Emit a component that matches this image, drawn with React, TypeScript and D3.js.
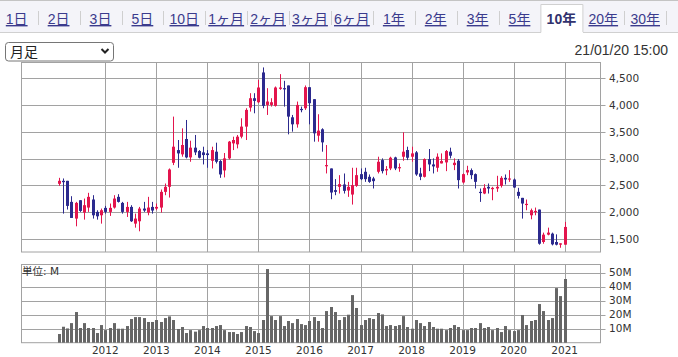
import React from "react";
import * as d3 from "d3";

const tabs = ["1日", "2日", "3日", "5日", "10日", "1ヶ月", "2ヶ月", "3ヶ月", "6ヶ月", "1年", "2年", "3年", "5年", "10年", "20年", "30年"];
const activeTab = "10年";
const periodLabel = "月足";
const timestamp = "21/01/20 15:00";
const unitLabel = "単位: M";

// monthly candles, Feb 2011 .. Jan 2021
const opens = [2530, 2586, 2586, 2193, 1881, 2224, 1993, 2087, 2237, 2006, 1943, 2081, 2006, 2087, 2287, 2174, 2006, 2099, 1787, 1831, 2068, 1993, 2099, 2068, 2087, 2380, 2474, 2923, 3160, 3080, 3367, 3023, 3205, 3142, 3117, 3098, 2960, 3130, 2955, 2780, 3005, 3285, 3267, 3410, 3598, 3953, 4128, 4053, 4609, 4003, 4003, 3985, 4303, 4316, 4366, 3772, 3641, 3928, 3941, 4334, 4110, 3429, 3548, 2861, 2817, 2412, 2474, 2518, 2405, 2330, 2493, 2711, 2755, 2661, 2630, 2755, 2973, 2780, 2817, 3023, 2830, 3036, 3161, 3036, 3117, 2724, 2661, 2992, 2892, 2830, 2911, 2930, 3130, 2880, 2961, 2555, 2742, 2786, 2711, 2380, 2349, 2474, 2430, 2443, 2493, 2642, 2611, 2611, 2380, 2268, 2143, 1943, 2018, 2049, 1444, 1581, 1600, 1444, 1394, 1394];
const closes = [2586, 2561, 2118, 1893, 2174, 2024, 2131, 2287, 1943, 1924, 2037, 2006, 2081, 2255, 2193, 2006, 2099, 1831, 1881, 2068, 2031, 2087, 2031, 2099, 2380, 2474, 2798, 3223, 3098, 3255, 3023, 3205, 3117, 3017, 3067, 3067, 3160, 2942, 2705, 3005, 3317, 3348, 3410, 3598, 3910, 4128, 4078, 4328, 3985, 4066, 4053, 4328, 4328, 4303, 3785, 3641, 4003, 3910, 4334, 4035, 3473, 3523, 3304, 2880, 2368, 2380, 2524, 2399, 2474, 2505, 2692, 2617, 2617, 2567, 2580, 2942, 2767, 2805, 3017, 2817, 2842, 3130, 3017, 3098, 2705, 2661, 2992, 2892, 2855, 3036, 2955, 3142, 3055, 2923, 2599, 2711, 2786, 2692, 2567, 2374, 2455, 2443, 2455, 2474, 2642, 2611, 2630, 2461, 2305, 2162, 2156, 2037, 2024, 1412, 1581, 1619, 1400, 1394, 1419, 1725];
const highs = [2642, 2630, 2586, 2299, 2193, 2224, 2255, 2362, 2318, 2037, 2068, 2118, 2162, 2318, 2337, 2193, 2193, 2131, 1974, 2099, 2193, 2287, 2193, 2162, 2424, 2536, 2817, 3785, 3348, 3566, 3722, 3335, 3442, 3160, 3223, 3160, 3223, 3298, 2973, 3105, 3330, 3410, 3442, 3754, 3941, 4222, 4222, 4472, 4703, 4316, 4128, 4347, 4578, 4453, 4366, 3816, 4066, 3972, 4366, 4334, 4110, 3829, 3567, 3254, 2817, 2618, 2692, 2723, 2567, 2830, 2830, 2817, 2830, 2705, 2661, 3036, 3005, 2861, 3036, 3036, 2911, 3492, 3223, 3223, 3142, 2830, 3005, 3180, 3005, 3098, 3098, 3161, 3205, 3005, 2992, 2724, 2867, 2817, 2724, 2443, 2524, 2536, 2474, 2680, 2674, 2705, 2786, 2630, 2455, 2268, 2237, 2068, 2087, 2049, 1619, 1712, 1619, 1587, 1419, 1819];
const lows = [2493, 1974, 2050, 1893, 1737, 2006, 1862, 2006, 1881, 1862, 1787, 1974, 1931, 2068, 2181, 1974, 1912, 1819, 1712, 1644, 2006, 1943, 1974, 2037, 1993, 2318, 2274, 2880, 2830, 3036, 3005, 2942, 3067, 3005, 2892, 2830, 2817, 2911, 2642, 2650, 2986, 3160, 3192, 3379, 3348, 3879, 3847, 4035, 3941, 3816, 3972, 3972, 4285, 3972, 3454, 3504, 3579, 3866, 3910, 3641, 3317, 3317, 3130, 2724, 2243, 2318, 2349, 2349, 2287, 2143, 2474, 2599, 2567, 2549, 2443, 2724, 2724, 2692, 2786, 2786, 2755, 2961, 2973, 2942, 2680, 2599, 2649, 2767, 2724, 2755, 2911, 2767, 3005, 2786, 2443, 2536, 2692, 2618, 2443, 2193, 2337, 2349, 2224, 2380, 2461, 2518, 2567, 2455, 2255, 1881, 2037, 1868, 1943, 1394, 1412, 1569, 1381, 1381, 1337, 1394];
// volume in millions of shares
const volumes = [6.2, 11.4, 10.2, 14, 21.9, 10.5, 14, 10.5, 10.5, 6.9, 12.6, 9, 10.5, 14, 10, 10, 11.9, 16.9, 18.3, 18.3, 17.6, 14.8, 14.8, 16.2, 14.8, 17.6, 18.8, 16.2, 9.8, 11.2, 6.9, 9, 7.9, 9, 11.9, 10.5, 10.5, 11.9, 12.6, 9, 7.6, 7.6, 6.2, 7.6, 11.9, 11.2, 8.3, 6.9, 16.2, 52.6, 19, 16.2, 19, 11.9, 15.5, 14, 16.9, 13.3, 12.6, 15.5, 18.3, 15.5, 10.5, 22.6, 25.5, 21.9, 16.2, 18.3, 20, 34, 24.8, 12.6, 16.2, 17.6, 16.9, 21.2, 20.2, 11.9, 12.6, 11.9, 12.6, 19, 11.2, 10, 16.2, 14, 11.9, 14.8, 11.2, 10, 10, 9, 10.5, 12.6, 11.2, 9, 9, 10.5, 10.5, 14, 10.5, 11.2, 9, 10.5, 7.6, 11.9, 9, 8.3, 9, 19.8, 12.6, 15.5, 16.2, 27.6, 22.6, 16.2, 17.6, 39, 33.3, 45.5];

const priceTicks = [1500, 2000, 2500, 3000, 3500, 4000, 4500];
const volumeTicks = [10, 20, 30, 40, 50];
const yearLabels = ["2012", "2013", "2014", "2015", "2016", "2017", "2018", "2019", "2020", "2021"];
const yearIndex = [11, 23, 35, 47, 59, 71, 83, 95, 107, 119];

const W = 678, H = 357;
const L = 21.5, R = 600.5;
const pTop = 62.5, pBot = 252;
const vTop = 264.5, vBot = 342.7;

const RED = "#e3154d";
const BLUE = "#2c2a8e";
const GRID = "#a2a2a2";
const AXFONT = "'DejaVu Sans', Verdana, sans-serif";
const JPFONT = "'Liberation Sans', Arial, 'Noto Sans CJK JP', sans-serif";

export default function App() {
  const x = d3.scaleLinear().domain([11, 119]).range([105.3, 564.7]);
  const y = d3.scaleLinear().domain([1500, 4500]).range([239, 78.3]);
  const yv = d3.scaleLinear().domain([0, 50]).range([vBot, 272.7]);
  const crisp = (v: number) => Math.round(v) + 0.5;

  const tabX = (k: number) => 16.7 + 41.9 * k;
  const activeK = tabs.indexOf(activeTab);

  return (
    <svg width={W} height={H} style={{ position: "absolute", left: 0, top: 0, background: "#fff" }}>
      {/* tab bar */}
      <rect x={0} y={0} width={W} height={32.5} fill="#f4f4f9" />
      <line x1={0} x2={W} y1={0.5} y2={0.5} stroke="#c4c4c4" />
      <line x1={0} x2={W} y1={32.5} y2={32.5} stroke="#d0d0d0" />
      <path d={`M${tabX(activeK) - 20.5},33 V4.5 H${tabX(activeK) + 21.5} V33`} fill="#fff" stroke="#d0d0d0" />
      <rect x={tabX(activeK) - 20} y={32} width={41.5} height={2} fill="#fff" />
      {tabs.map((t, k) => (
        <text key={t} x={tabX(k)} y={24} textAnchor="middle" fontFamily={JPFONT} fontSize={14}
          fontWeight={k === activeK ? "bold" : "normal"} fill={k === activeK ? "#32326e" : "#3b3b8d"}
          textDecoration={k === activeK ? "none" : "underline"}>{t}</text>
      ))}
      {tabs.map((t, k) => (k !== activeK - 1 && k !== activeK) ? (
        <line key={"s" + t} x1={crisp(tabX(k) + 21)} x2={crisp(tabX(k) + 21)} y1={11} y2={25} stroke="#cfcfcf" />
      ) : null)}

      {/* period select */}
      <rect x={5.5} y={42.5} width={108} height={18.5} rx={3} fill="#fff" stroke="#767676" />
      <text x={10} y={57} fontFamily={JPFONT} fontSize={14} fill="#222">{periodLabel}</text>
      <path d="M101.5,49 L105,52.5 L108.5,49" fill="none" stroke="#222" strokeWidth={2} />
      <text x={668} y={55} textAnchor="end" fontFamily={JPFONT} fontSize={14} fill="#333">{timestamp}</text>

      {/* price panel grid */}
      {priceTicks.map(v => (
        <g key={v}>
          <line x1={L} x2={R + 5} y1={crisp(y(v))} y2={crisp(y(v))} stroke={GRID} />
          <text x={609} y={y(v)} dy="0.35em" fontFamily={AXFONT} fontSize={10.5} fill="#333">{d3.format(",")(v)}</text>
        </g>
      ))}
      {yearIndex.map(i => (
        <g key={i}>
          <line x1={crisp(x(i))} x2={crisp(x(i))} y1={pTop} y2={pBot} stroke={GRID} />
          <line x1={crisp(x(i))} x2={crisp(x(i))} y1={vTop} y2={vBot} stroke={GRID} />
        </g>
      ))}
      <rect x={L} y={pTop} width={R - L} height={pBot - pTop} fill="none" stroke={GRID} />

      {/* candles */}
      {opens.map((o, i) => {
        const c = closes[i];
        const cx = Math.round(x(i));
        const col = c >= o ? RED : BLUE;
        const yt = y(Math.max(o, c));
        const yb = y(Math.min(o, c));
        return (
          <g key={i}>
            <rect x={cx} y={y(highs[i])} width={1} height={y(lows[i]) - y(highs[i])} fill={col} />
            <rect x={cx - 1} y={yt} width={3} height={Math.max(1.2, yb - yt)} fill={col} />
          </g>
        );
      })}

      {/* volume panel */}
      {volumeTicks.map(v => (
        <g key={v}>
          <line x1={L} x2={R + 5} y1={crisp(yv(v))} y2={crisp(yv(v))} stroke={GRID} />
          <text x={609} y={yv(v)} dy="0.35em" fontFamily={AXFONT} fontSize={10.5} fill="#333">{v}M</text>
        </g>
      ))}
      <rect x={L} y={vTop} width={R - L} height={vBot - vTop} fill="none" stroke={GRID} />
      {volumes.map((v, i) => (
        <rect key={i} x={Math.round(x(i)) - 1} y={yv(v)} width={3} height={vBot - yv(v)} fill="#666" />
      ))}
      <text x={22} y={274.5} fontFamily={"'DejaVu Sans', 'Noto Sans CJK JP', sans-serif"} fontSize={10.5} fill="#333">{unitLabel}</text>

      {yearLabels.map((t, k) => (
        <text key={t} x={x(yearIndex[k])} y={354} textAnchor="middle" fontFamily={AXFONT} fontSize={10.5} fill="#333">{t}</text>
      ))}
    </svg>
  );
}
